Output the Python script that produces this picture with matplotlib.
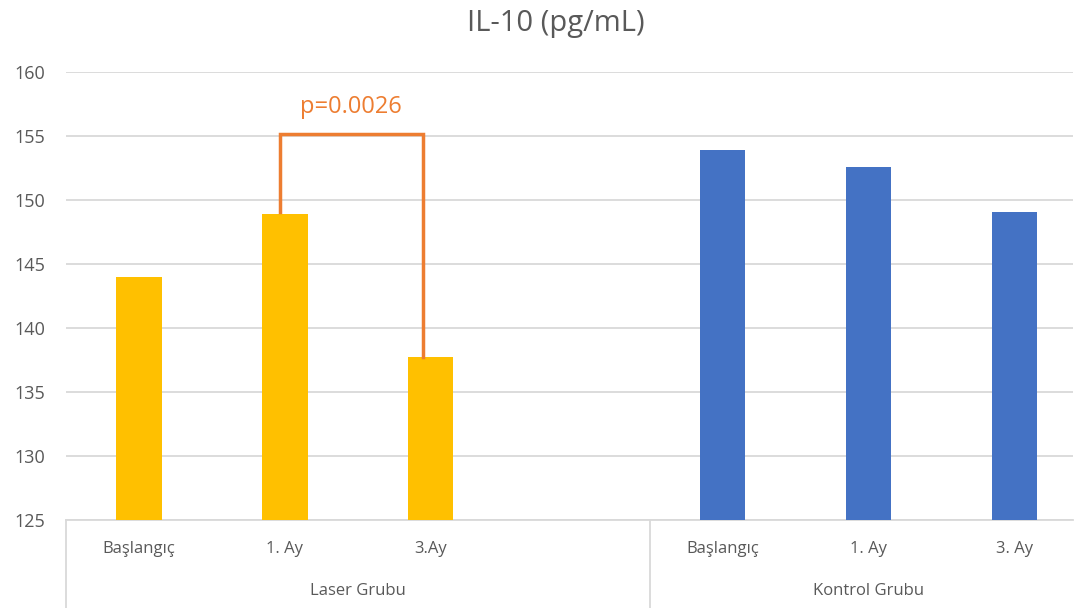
import matplotlib
matplotlib.use("Agg")
import matplotlib.pyplot as plt
import matplotlib.transforms as mtransforms

# data
groups = ["Laser Grubu", "Kontrol Grubu"]
laser_labels = ["Başlangıç", "1. Ay", "3.Ay"]
kontrol_labels = ["Başlangıç", "1. Ay", "3. Ay"]
laser_values = [144.0, 148.9, 137.7]
kontrol_values = [153.9, 152.6, 149.1]
p_text = "p=0.0026"
y_ticks = [125, 130, 135, 140, 145, 150, 155, 160]

plt.rcParams['font.family'] = ['Open Sans', 'DejaVu Sans']
grey = "#595959"
line_grey = "#D9D9D9"

fig = plt.figure(figsize=(10.79, 6.08), dpi=100)
ax = fig.add_axes([0.0612, 0.1447, 0.9332, 0.7369])

laser_x = [0, 1, 2]
kontrol_x = [4, 5, 6]
width = 0.31
ax.bar(laser_x, [v - 125 for v in laser_values], width, bottom=125, color="#FFC000", zorder=3)
ax.bar(kontrol_x, [v - 125 for v in kontrol_values], width, bottom=125, color="#4472C4", zorder=3)

ax.set_ylim(125, 160)
ax.set_xlim(-0.5, 6.4)
ax.set_yticks(y_ticks)
ax.yaxis.grid(True, color=line_grey, linewidth=1.3, zorder=0)
ax.tick_params(axis='y', length=0, labelsize=13, labelcolor=grey, pad=15)
ax.set_xticks([])
for s in ["top", "right", "left"]:
    ax.spines[s].set_visible(False)
ax.spines["bottom"].set_color(line_grey)
ax.spines["bottom"].set_linewidth(1.3)

# category and group labels under the axis
trans = mtransforms.blended_transform_factory(ax.transData, ax.transAxes)
for x, lab in zip(laser_x + kontrol_x, laser_labels + kontrol_labels):
    ax.text(x, -0.065, lab, transform=trans, ha="center", va="center", fontsize=12, color=grey)
ax.text(1.5, -0.158, groups[0], transform=trans, ha="center", va="center", fontsize=12, color=grey)
ax.text(5.0, -0.158, groups[1], transform=trans, ha="center", va="center", fontsize=12, color=grey)
for x in [-0.5, 3.5]:
    ax.plot([x, x], [0, -0.2], transform=trans, color=line_grey, linewidth=1.3, clip_on=False)

# significance bracket
orange = "#ED7D31"
bx0, bx1, btop = 0.965, 1.945, 155.15
ax.plot([bx0, bx0, bx1, bx1], [laser_values[1] + 0.15, btop, btop, laser_values[2]],
        color=orange, linewidth=2.5, zorder=4, solid_joinstyle="miter")
ax.text((bx0 + bx1) / 2, 157.3, p_text, ha="center", va="center", fontsize=17, color=orange)

fig.text(0.515, 0.962, "IL-10 (pg/mL)", ha="center", va="center", fontsize=21, color=grey)

fig.savefig("out.png", dpi=100)
